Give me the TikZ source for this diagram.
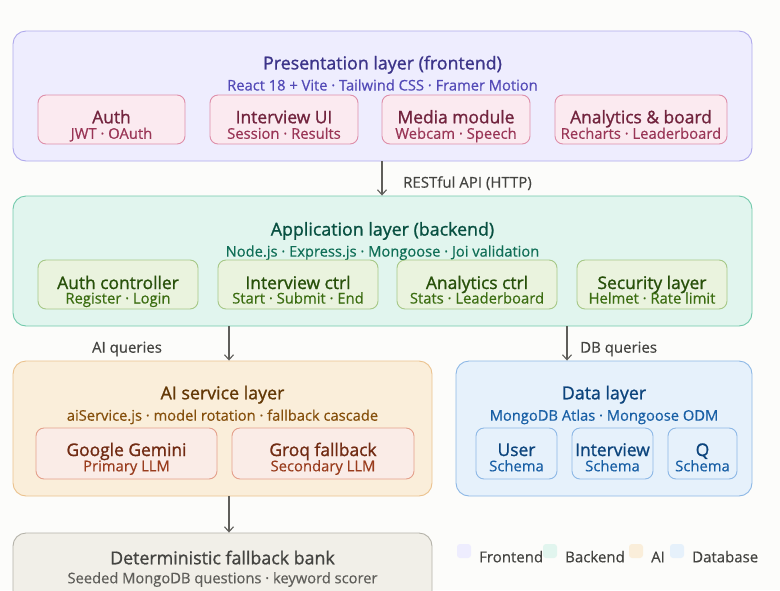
\documentclass[tikz,border=0pt]{standalone}
\usepackage{fontspec}
\setmainfont{Open Sans}
\newfontfamily\medfont{Open Sans}[FakeBold=1.2]
\newfontfamily\subfont{Open Sans}[FakeBold=0.5]
\usetikzlibrary{arrows.meta}
\definecolor{bgc}{HTML}{FCFCFA}
\definecolor{pfill}{HTML}{EEEDFE}\definecolor{pdraw}{HTML}{AFA9EC}
\definecolor{ptitle}{HTML}{3C3489}\definecolor{psub}{HTML}{534AB7}
\definecolor{kfill}{HTML}{FBEAF0}\definecolor{kdraw}{HTML}{DE8FAA}
\definecolor{ktitle}{HTML}{72243E}\definecolor{ksub}{HTML}{993556}
\definecolor{afill}{HTML}{E1F5EE}\definecolor{adraw}{HTML}{72C9AB}
\definecolor{atitle}{HTML}{085041}\definecolor{asub}{HTML}{0F6E56}
\definecolor{gfill}{HTML}{EAF3DE}\definecolor{gdraw}{HTML}{A6C887}
\definecolor{gtitle}{HTML}{27500A}\definecolor{gsub}{HTML}{3B6D11}
\definecolor{ifill}{HTML}{FAEEDA}\definecolor{idraw}{HTML}{EBC28E}
\definecolor{ititle}{HTML}{633806}\definecolor{isub}{HTML}{854F0B}
\definecolor{cfill}{HTML}{FAECE7}\definecolor{cdraw}{HTML}{E4A08B}
\definecolor{ctitle}{HTML}{712B13}\definecolor{csub}{HTML}{993C1D}
\definecolor{dfill}{HTML}{E6F1FB}\definecolor{ddraw}{HTML}{8DB8E6}
\definecolor{dtitle}{HTML}{0C447C}\definecolor{dsub}{HTML}{185FA5}
\definecolor{nfill}{HTML}{F1EFE8}\definecolor{ndraw}{HTML}{B4B2A9}
\definecolor{ntitle}{HTML}{444441}\definecolor{nsub}{HTML}{5F5E5A}
\definecolor{arrc}{HTML}{5F5E5A}\definecolor{lblc}{HTML}{444441}
\tikzset{
  layer/.style={draw=#1draw, fill=#1fill, line width=0.9pt, rounded corners=13pt, inner sep=0pt},
  sub/.style={draw=#1draw, fill=#1fill, line width=0.9pt, rounded corners=8pt, inner sep=0pt, minimum height=49pt},
  ltitle/.style={text=#1title, font=\medfont\fontsize{17.8}{19}\selectfont, inner sep=0pt, anchor=base},
  lsub/.style={text=#1sub, font=\subfont\fontsize{14.7}{16}\selectfont, inner sep=0pt, anchor=base},
  btitle/.style={text=#1title, font=\medfont\fontsize{17.4}{18}\selectfont, inner sep=0pt, anchor=base},
  bsub/.style={text=#1sub, font=\subfont\fontsize{14.8}{16}\selectfont, inner sep=0pt, anchor=base},
  arr/.style={draw=arrc, line width=1.1pt, -{Straight Barb[length=5pt,width=9pt,line width=1.1pt]}},
  lbl/.style={text=lblc, font=\subfont\fontsize{15}{16}\selectfont, inner sep=0pt},
  legsq/.style={fill=#1fill, rounded corners=3pt, minimum size=14pt, inner sep=0pt}
}
\begin{document}
\begin{tikzpicture}[x=1pt,y=-1pt]
\path[clip] (0,0) rectangle (780,590);
\useasboundingbox (0,0) rectangle (780,590);
\fill[bgc] (0,0) rectangle (780,590);

% Presentation layer
\node[layer=p, minimum width=739pt, minimum height=130pt] (pres) at (382.5,96) {};
\node[ltitle=p] (prest) at (382.5,69.4) {Presentation layer (frontend)};
\node[lsub=p] (press) at (382.5,90.5) {React 18 + Vite · Tailwind CSS · Framer Motion};
\node[sub=k, minimum width=147pt] (fauth) at (111.5,119.5) {};
\node[btitle=k] at (111.5,123.3) {Auth};
\node[bsub=k] at (111.5,138.8) {JWT · OAuth};
\node[sub=k, minimum width=148pt] (fiui) at (284,119.5) {};
\node[btitle=k] at (284,123.3) {Interview UI};
\node[bsub=k] at (284,138.8) {Session · Results};
\node[sub=k, minimum width=148pt] (fmed) at (456,119.5) {};
\node[btitle=k] at (456,123.3) {Media module};
\node[bsub=k] at (456,138.8) {Webcam · Speech};
\node[sub=k, minimum width=172pt] (fana) at (641,119.5) {};
\node[btitle=k] at (641,123.3) {Analytics \& board};
\node[bsub=k] at (641,138.8) {Recharts · Leaderboard};

% Application layer
\node[layer=a, minimum width=739pt, minimum height=130pt] (app) at (382.5,261) {};
\node[ltitle=a] (appt) at (382.5,235.6) {Application layer (backend)};
\node[lsub=a] (apps) at (382.5,256.6) {Node.js · Express.js · Mongoose · Joi validation};
\node[sub=g, minimum width=160pt] (bauth) at (118,284.5) {};
\node[btitle=g] at (118,289) {Auth controller};
\node[bsub=g] at (118,303.5) {Register · Login};
\node[sub=g, minimum width=160pt] (biv) at (298,284.5) {};
\node[btitle=g] at (298,289) {Interview ctrl};
\node[bsub=g] at (298,303.5) {Start · Submit · End};
\node[sub=g, minimum width=160pt] (bana) at (477,284.5) {};
\node[btitle=g] at (477,289) {Analytics ctrl};
\node[bsub=g] at (477,303.5) {Stats · Leaderboard};
\node[sub=g, minimum width=150pt] (bsec) at (652,284.5) {};
\node[btitle=g] at (652,289) {Security layer};
\node[bsub=g] at (652,303.5) {Helmet · Rate limit};

% AI service layer
\node[layer=i, minimum width=419pt, minimum height=135pt] (ai) at (222.5,428.5) {};
\node[ltitle=i] (ait) at (222.5,399.3) {AI service layer};
\node[lsub=i] (ais) at (222.5,420.7) {aiService.js · model rotation · fallback cascade};
\node[sub=c, minimum width=181pt, minimum height=51pt] (gem) at (126.5,453.5) {};
\node[btitle=c] at (126.5,456) {Google Gemini};
\node[bsub=c] at (126.5,471.3) {Primary LLM};
\node[sub=c, minimum width=182pt, minimum height=51pt] (groq) at (323,453.5) {};
\node[btitle=c] at (323,456) {Groq fallback};
\node[bsub=c] at (323,471.3) {Secondary LLM};

% Data layer
\node[layer=d, minimum width=296pt, minimum height=135pt] (data) at (604,428.5) {};
\node[ltitle=d] (datat) at (604,399.3) {Data layer};
\node[lsub=d] (datas) at (604,420.7) {MongoDB Atlas · Mongoose ODM};
\node[sub=d, minimum width=81pt, minimum height=51pt] (duser) at (516.5,453.5) {};
\node[btitle=d] at (516.5,456) {User};
\node[bsub=d] at (516.5,471.3) {Schema};
\node[sub=d, minimum width=81pt, minimum height=51pt] (div) at (612.5,453.5) {};
\node[btitle=d] at (612.5,456) {Interview};
\node[bsub=d] at (612.5,471.3) {Schema};
\node[sub=d, minimum width=69pt, minimum height=51pt] (dq) at (702.5,453.5) {};
\node[btitle=d] at (702.5,456) {Q};
\node[bsub=d] at (702.5,471.3) {Schema};

% Deterministic fallback bank
\node[layer=n, minimum width=419pt, minimum height=80pt] (det) at (222.5,573) {};
\node[ltitle=n] (dett) at (222.5,564.3) {Deterministic fallback bank};
\node[lsub=n] (dets) at (222.5,583.3) {Seeded MongoDB questions · keyword scorer};

% Arrows
\coordinate (c1) at (382,0);
\coordinate (c2) at (229,0);
\coordinate (c3) at (567,0);
\draw[arr] (c1 |- pres.south) -- (c1 |- app.north);
\node[lbl, anchor=base west] (l1) at (403,187.7) {RESTful API (HTTP)};
\draw[arr] (c2 |- app.south) -- (c2 |- ai.north);
\node[lbl, anchor=base] (l2) at (127,352.7) {AI queries};
\draw[arr] (c3 |- app.south) -- (c3 |- data.north);
\node[lbl, anchor=base west] (l3) at (580,352.7) {DB queries};
\draw[arr] (c2 |- ai.south) -- (c2 |- det.north);

% Legend
\node[legsq=p] (lg1) at (464,551) {};
\node[lbl, anchor=base west] at (479,562.3) {Frontend};
\node[legsq=a] (lg2) at (550,551) {};
\node[lbl, anchor=base west] at (565,562.3) {Backend};
\node[legsq=i] (lg3) at (636,551) {};
\node[lbl, anchor=base west] at (651,562.3) {AI};
\node[legsq=d] (lg4) at (677,551) {};
\node[lbl, anchor=base west] at (692,562.3) {Database};
\end{tikzpicture}
\end{document}
